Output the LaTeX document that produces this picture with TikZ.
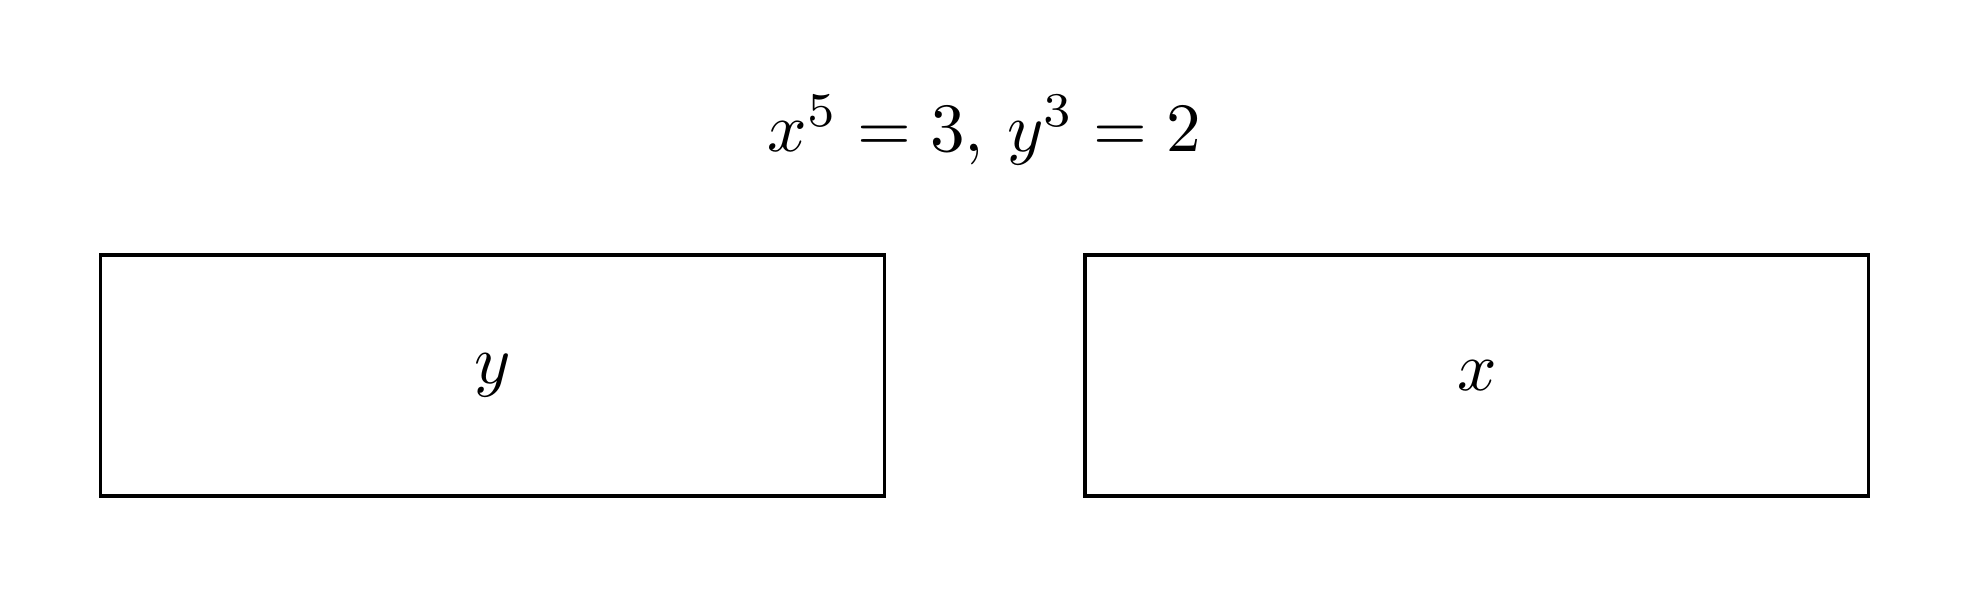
\documentclass[tikz,border=0pt]{standalone}
\begin{document}
\begin{tikzpicture}[x=10mm, y=10mm,
  varbox/.style={draw,line width=.45pt,minimum width=39.8mm,minimum height=12.24mm,inner sep=0pt}]

  \useasboundingbox (0,0) rectangle (10,3.032);

  \node (eqs) at (5,2.37) {$x^5 = 3,\, y^3 = 2$};

  \foreach \x/\v/\nm in {2.5/y/boxy, 7.5/x/boxx}{
    \node[varbox] (\nm) at (\x,1.125) {$\v$};
  }
\end{tikzpicture}
\end{document}
